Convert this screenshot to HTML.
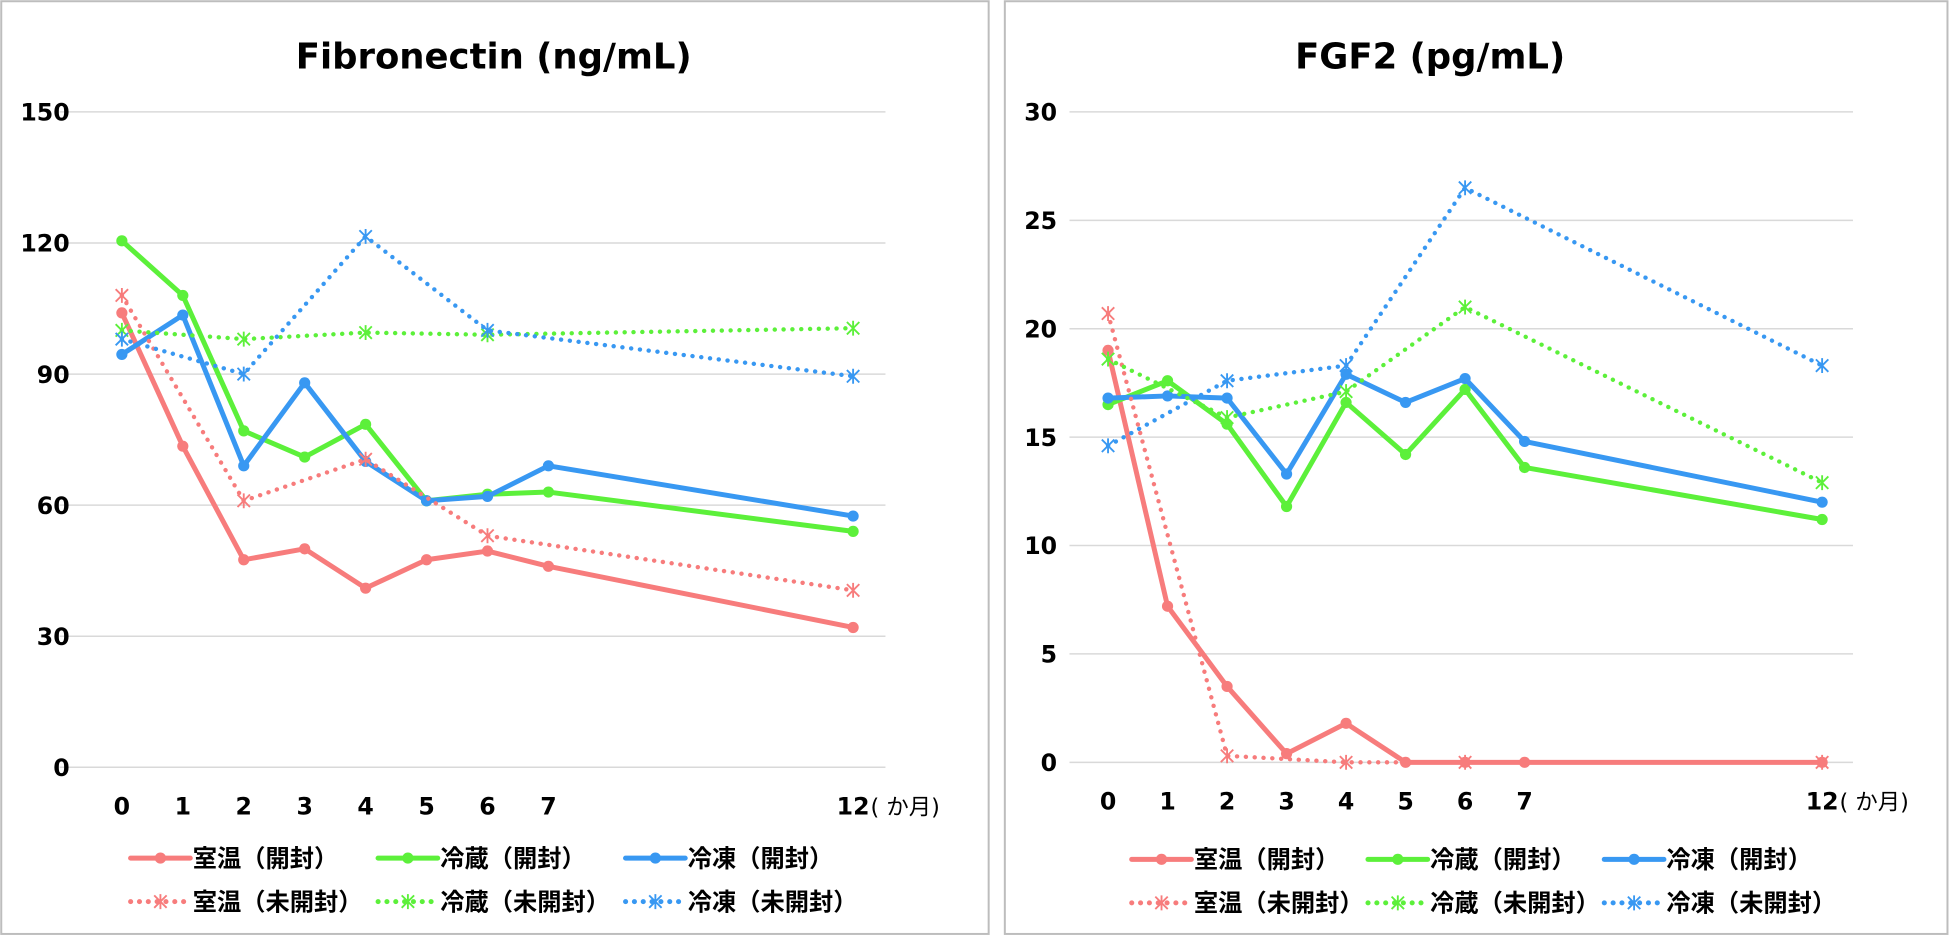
<!DOCTYPE html>
<html><head><meta charset="utf-8"><style>
body{margin:0;background:#fff;font-family:"DejaVu Sans","Noto Sans CJK JP",sans-serif}
svg text{font-family:"DejaVu Sans","Noto Sans CJK JP",sans-serif}
</style></head><body>
<svg width="1950" height="936" xmlns="http://www.w3.org/2000/svg">
<g id="s" transform="scale(1.2436)">
<rect x="1" y="1" width="794" height="750" fill="#fff" stroke="#bdbdbd" stroke-width="1.6"/>
<rect x="808" y="1" width="758" height="750" fill="#fff" stroke="#bdbdbd" stroke-width="1.6"/>
</g>
</svg>
<script>
const months=[0,1,2,3,4,5,6,7,12];
const monthsU=[0,2,4,6,12];
const leftOpenRoom=[104,73.5,47.5,50,41,47.5,49.5,46,32];
const leftOpenFridge=[120.5,108,77,71,78.5,61,62.5,63,54];
const leftOpenFrozen=[94.5,103.5,69,88,70,61,62,69,57.5];
const leftSealRoom=[108,61,70.5,53,40.5];
const leftSealFridge=[100,98,99.5,99,100.5];
const leftSealFrozen=[98,90,121.5,100,89.5];
const leftTicks=[0,30,60,90,120,150];
const rightOpenRoom=[19,7.2,3.5,0.4,1.8,0,0,0,0];
const rightOpenFridge=[16.5,17.6,15.6,11.8,16.6,14.2,17.2,13.6,11.2];
const rightOpenFrozen=[16.8,16.9,16.8,13.3,17.9,16.6,17.7,14.8,12.0];
const rightSealRoom=[20.7,0.3,0,0,0];
const rightSealFridge=[18.6,15.9,17.1,21,12.9];
const rightSealFrozen=[14.6,17.6,18.3,26.5,18.3];
const rightTicks=[0,5,10,15,20,25,30];
const xLabels=["0","1","2","3","4","5","6","7","12"];
const names=["室温（開封）","冷蔵（開封）","冷凍（開封）","室温（未開封）","冷蔵（未開封）","冷凍（未開封）"];
const colors=["#f77c7c","#5cf03a","#3898f2"];
const S=document.getElementById('s');const NS="http://www.w3.org/2000/svg";
function el(t,a,txt){const e=document.createElementNS(NS,t);for(const k in a)e.setAttribute(k,a[k]);if(txt!==undefined)e.textContent=txt;S.appendChild(e);return e;}
function star(x,y,c){const g=document.createElementNS(NS,'path');
g.setAttribute('d',`M${x-5} ${y-5}L${x+5} ${y+5}M${x-5} ${y+5}L${x+5} ${y-5}M${x} ${y-6}L${x} ${y+6}`);
g.setAttribute('stroke',c);g.setAttribute('stroke-width','1.5');g.setAttribute('fill','none');


S.appendChild(g);}
function chart(o){
 const X=m=>o.x0+m*o.dx, Y=v=>o.y0-(v/o.ymax)*(o.y0-o.y1);
 let t=el('text',{x:o.tx,y:55,'font-size':28.5,'font-weight':'bold','text-anchor':'middle',fill:'#000'},o.title);
 
 
 o.ticks.forEach(v=>{const l=el('line',{x1:o.gx0,x2:o.gx1,y1:Y(v),y2:Y(v),stroke:'#d9d9d9','stroke-width':1.2});
  
  
  const tt=el('text',{x:o.lx,y:Y(v)+7,'font-size':19,'font-weight':'bold','text-anchor':'end'},v);
  
  });
 months.forEach((m,i)=>{const tt=el('text',{x:X(m),y:o.y0+38,'font-size':19,'font-weight':'bold','text-anchor':'middle'},xLabels[i]);
  
  });
 const u=el('text',{x:X(12)+14,y:o.y0+38,'font-size':18},'( か月)');
 
 
 o.open.forEach((arr,k)=>{const p=el('polyline',{points:arr.map((v,i)=>X(months[i])+','+Y(v)).join(' '),fill:'none',stroke:colors[k],'stroke-width':4,'stroke-linejoin':'round'});
  
  
  arr.forEach((v,i)=>{const c=el('circle',{cx:X(months[i]),cy:Y(v),r:4.5,fill:colors[k]});
   
   });});
 o.seal.forEach((arr,k)=>{const p=el('polyline',{points:arr.map((v,i)=>X(monthsU[i])+','+Y(v)).join(' '),fill:'none',stroke:colors[k],'stroke-width':3.5,'stroke-dasharray':'0.1 7','stroke-linecap':'round'});
  
  
  arr.forEach((v,i)=>star(X(monthsU[i]),Y(v),colors[k]));});
 names.forEach((n,k)=>{const lx=o.legX[k%3],ly=k<3?o.legY[0]:o.legY[1],c=colors[k%3];
  const l=el('line',{x1:lx,x2:lx+48,y1:ly,y2:ly,stroke:c,'stroke-width':4,'stroke-dasharray':k<3?'none':'0.1 7','stroke-linecap':'round'});
  
  
  if(k<3){const ci=el('circle',{cx:lx+24,cy:ly,r:4.5,fill:c});}else star(lx+24,ly,c);
  const tt=el('text',{x:lx+50,y:ly+7,'font-size':19.5,'font-weight':'bold'},n);
  
  });
}
chart({title:'Fibronectin (ng/mL)',tx:397,x0:98,dx:49,y0:617,y1:90,ymax:150,ticks:leftTicks,gx0:48,gx1:712,lx:56,
 open:[leftOpenRoom,leftOpenFridge,leftOpenFrozen],seal:[leftSealRoom,leftSealFridge,leftSealFrozen],legX:[105,304,503],legY:[690,725]});
chart({title:'FGF2 (pg/mL)',tx:1150,x0:891,dx:47.85,y0:613,y1:90,ymax:30,ticks:rightTicks,gx0:860,gx1:1490,lx:850,
 open:[rightOpenRoom,rightOpenFridge,rightOpenFrozen],seal:[rightSealRoom,rightSealFridge,rightSealFrozen],legX:[910,1100,1290],legY:[691,726]});
</script>
</body></html>
